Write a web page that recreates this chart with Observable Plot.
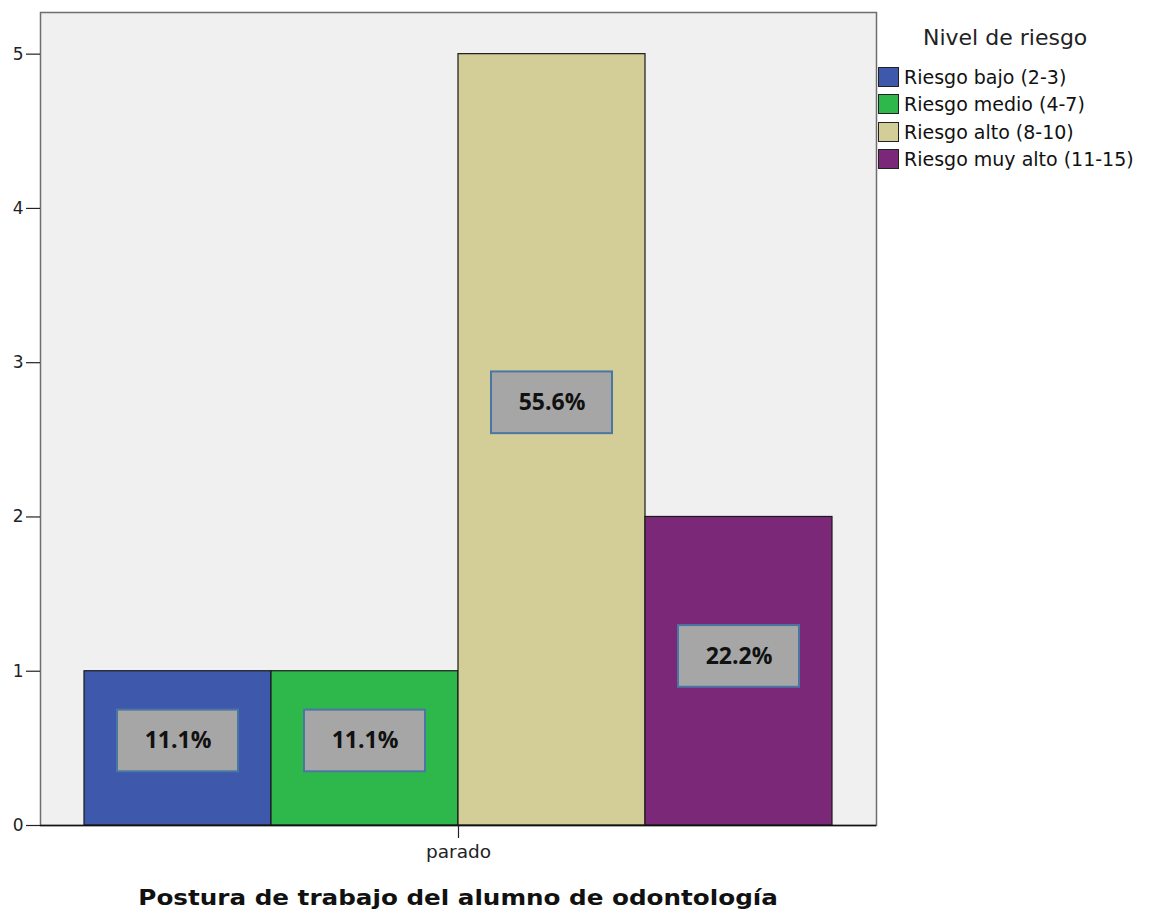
<!DOCTYPE html>
<html>
<head>
<meta charset="utf-8">
<script src="https://cdn.jsdelivr.net/npm/d3@7"></script>
<script src="https://cdn.jsdelivr.net/npm/@observablehq/plot@0.6"></script>
<style>
  body { margin: 0; background: #fff; font-family: "DejaVu Sans", sans-serif; }
  #wrap { position: relative; width: 1154px; height: 919px; }
  #chart { position: absolute; left: 0; top: 0; }
  #legend { position: absolute; left: 878px; top: 26px; font-family: "DejaVu Sans", sans-serif; color: #111; }
  #legend .title { font-size: 22px; height: 24px; line-height: 24px; margin-left: 45px; margin-bottom: 13.4px; color: #222; }
  #legend .row { display: flex; align-items: center; height: 27.3px; font-size: 19px; }
  #legend .sw { width: 21px; height: 20px; border: 1.5px solid #222; box-sizing: border-box; margin-right: 5px; }
  #xtitle { position: absolute; top: 885px; left: 40px; width: 836px; text-align: center;
            font-family: "DejaVu Sans", sans-serif; font-weight: 700; font-size: 22px; color: #111;
            transform: scaleX(1.12); transform-origin: 417px 50%; }
</style>
</head>
<body>
<div id="wrap">
  <div id="chart"></div>
  <div id="legend"></div>
  <div id="xtitle"></div>
</div>
<script>
// Working posture category and risk levels
const postures = ["parado"];
const levels = ["Riesgo bajo (2-3)", "Riesgo medio (4-7)", "Riesgo alto (8-10)", "Riesgo muy alto (11-15)"];
const counts = [1, 1, 5, 2];
const colors = ["#3e58ac", "#2eb84c", "#d3ce97", "#7b2878"];
const yTicks = [0, 1, 2, 3, 4, 5];
const legendTitle = "Nivel de riesgo";
const xTitle = "Postura de trabajo del alumno de odontología";

const total = d3.sum(counts);
const data = levels.map((level, i) => ({
  posture: postures[0],
  level,
  count: counts[i],
  pct: (100 * counts[i] / total).toFixed(1) + "%"
}));

const chart = Plot.plot({
  width: 880,
  height: 870,
  marginLeft: 40,
  marginRight: 4,
  marginTop: 12,
  marginBottom: 45,
  style: { fontFamily: "DejaVu Sans, sans-serif", background: "transparent" },
  fx: { domain: postures, padding: 0, label: null },
  x: { domain: levels, padding: 0, insetLeft: 42, insetRight: 43, axis: null },
  y: { domain: [0, 5.27], ticks: yTicks, label: null },
  color: { domain: levels, range: colors },
  marks: [
    Plot.frame({ fill: "#f0f0f0", stroke: "#6e6e6e", strokeWidth: 1.5 }),
    Plot.barY(data, { fx: "posture", x: "level", y: "count", fill: "level", stroke: "#1a1a1a", strokeWidth: 1.2 }),
    // percentage callouts on each bar
    Plot.rect(data, {
      fx: "posture", x: "level",
      y1: d => d.count * 0.548 - 0.2, y2: d => d.count * 0.548 + 0.2,
      insetLeft: 33, insetRight: 33,
      fill: "#a6a6a6", stroke: "#4a76a3", strokeWidth: 2
    }),
    Plot.text(data, {
      fx: "posture", x: "level", y: d => d.count * 0.548, text: "pct",
      fontFamily: "Open Sans, sans-serif", fontWeight: "bold", fontSize: 23, fill: "#111"
    }),
    Plot.ruleY([0], { stroke: "#111", strokeWidth: 1.5 }),
    Plot.axisY({ ticks: yTicks, tickFormat: "d", tickSize: 14, tickPadding: 3, fontSize: 17, label: null, color: "#222", strokeWidth: 1.2 }),
    Plot.ruleX([0], { frameAnchor: "left", stroke: "#111", strokeWidth: 1.5 }),
    Plot.axisFx({ anchor: "bottom", tickSize: 13, tickPadding: 6, fontSize: 18.5, label: null, color: "#222", strokeWidth: 1.2 })
  ]
});
document.getElementById("chart").appendChild(chart);

// Legend
const legend = document.getElementById("legend");
const t = document.createElement("div");
t.className = "title";
t.textContent = legendTitle;
legend.appendChild(t);
levels.forEach((lv, i) => {
  const row = document.createElement("div");
  row.className = "row";
  const sw = document.createElement("div");
  sw.className = "sw";
  sw.style.background = colors[i];
  const lab = document.createElement("span");
  lab.textContent = lv;
  row.appendChild(sw);
  row.appendChild(lab);
  legend.appendChild(row);
});

document.getElementById("xtitle").textContent = xTitle;
</script>
</body>
</html>
